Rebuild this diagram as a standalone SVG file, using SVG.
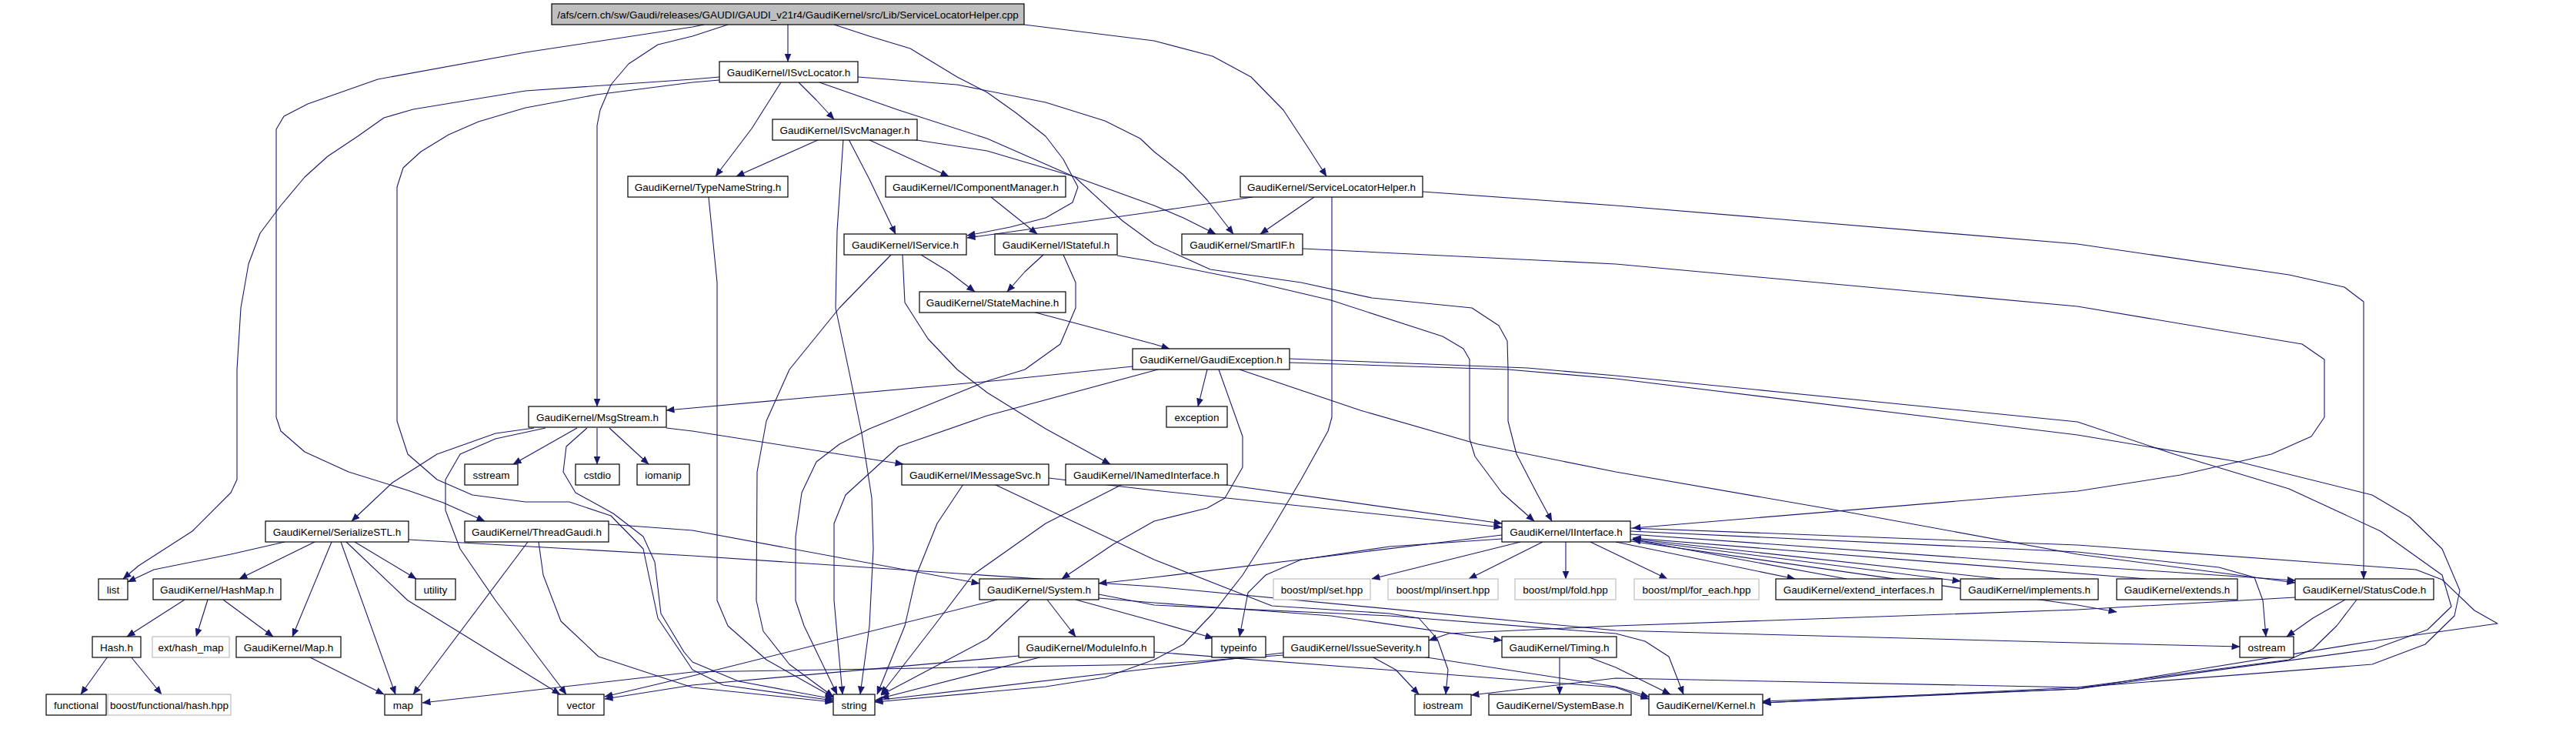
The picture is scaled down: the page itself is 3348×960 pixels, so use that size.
<svg xmlns="http://www.w3.org/2000/svg" width="3348" height="960" viewBox="0 0 3348 960">
<style>
rect{fill:#fff;stroke:#000;stroke-width:1.2}
.g rect{stroke:#bfbfbf}
#n_root rect{fill:#bfbfbf}
text{font-family:"Liberation Sans",Arial,sans-serif;font-size:13.5px;fill:#000;text-anchor:middle}
.e{fill:none;stroke:#191970;stroke-width:1.1;stroke-linejoin:round;marker-end:url(#a)}
</style>
<defs>
<marker id="a" markerWidth="11" markerHeight="9" refX="10.5" refY="4.5" orient="auto" markerUnits="userSpaceOnUse">
<path d="M0,0 L11,4.5 L0,9 z" fill="#191970"/>
</marker>
</defs>
<rect x="0" y="0" width="3348" height="960" style="fill:#fff;stroke:none"/>
<g id="edges">
<path class="e" d="M1024,32 L1024,80"/>
<path class="e" d="M915,32 L900,35 L683,68 L491,103 L400,135 L369,151 L359,168 L359,542 L365,560 L396,587 L453,613 L530,637 L576,653 L630,677"/>
<path class="e" d="M946,32 L900,47 L855,58 L817,83 L794,110 L780,143 L776,163 L776,528"/>
<path class="e" d="M1084,32 L1130,47 L1183,63 L1244,100 L1283,120 L1321,147 L1359,177 L1382,207 L1401,243 L1394,263 L1359,283 L1313,295 L1257,306"/>
<path class="e" d="M1331,32 L1500,53 L1576,73 L1626,100 L1668,143 L1699,190 L1724,229"/>
<path class="e" d="M935,100 L900,103 L683,118 L537,142 L499,153 L465,177 L426,203 L396,230 L365,267 L338,303 L323,343 L313,400 L308,480 L308,623 L300,640 L250,690 L180,735 L160,752"/>
<path class="e" d="M935,104 L900,107 L775,123 L683,140 L622,158 L583,175 L547,197 L524,218 L516,243 L516,547 L530,590 L568,623 L614,643 L683,652 L740,652 L794,670 L836,713 L855,803 L900,870 L940,890 L1083,910"/>
<path class="e" d="M1015,107 L977,167 L930,229"/>
<path class="e" d="M1038,107 L1061,130 L1084,155"/>
<path class="e" d="M1115,100 L1244,110 L1359,133 L1436,157 L1482,180 L1500,197 L1538,227 L1569,260 L1603,304"/>
<path class="e" d="M1065,107 L1168,143 L1283,180 L1397,230 L1459,287 L1500,317 L1573,350 L1691,367 L1783,387 L1913,400 L1948,423 L1959,443 L1960,480 L1960,547 L1971,590 L1997,640 L2017,677"/>
<path class="e" d="M1065,181 L957,229"/>
<path class="e" d="M1096,181 L1088,300 L1086,400 L1103,480 L1120,563 L1133,647 L1135,713 L1130,813 L1118,902"/>
<path class="e" d="M1103,181 L1130,233 L1164,304"/>
<path class="e" d="M1128,181 L1233,229"/>
<path class="e" d="M1185,181 L1283,196 L1398,230 L1500,267 L1538,283 L1580,304"/>
<path class="e" d="M1288,256 L1348,304"/>
<path class="e" d="M1628,256 L1500,275 L1257,309"/>
<path class="e" d="M1708,256 L1638,304"/>
<path class="e" d="M1731,256 L1731,542 L1726,560 L1691,623 L1653,687 L1615,747 L1576,797 L1538,837 L1500,857 L1436,880 L1359,892 L1137,912"/>
<path class="e" d="M1849,249 L2100,267 L2700,317 L2975,357 L3047,373 L3072,392 L3072,752"/>
<path class="e" d="M1197,331 L1233,353 L1267,379"/>
<path class="e" d="M1158,331 L1091,400 L1026,480 L996,547 L984,613 L983,780 L992,820 L1026,863 L1083,905"/>
<path class="e" d="M1173,331 L1176,393 L1206,440 L1244,480 L1283,510 L1359,557 L1443,603"/>
<path class="e" d="M1356,331 L1332,353 L1309,379"/>
<path class="e" d="M1382,331 L1398,367 L1398,400 L1378,447 L1332,480 L1283,495 L1130,557 L1091,577 L1061,600 L1042,640 L1034,697 L1034,780 L1045,813 L1088,902"/>
<path class="e" d="M1452,332 L1500,340 L1615,363 L1730,390 L1875,437 L1902,453 L1910,467 L1910,570 L1917,593 L1952,640 L1994,677"/>
<path class="e" d="M1342,405 L1500,447 L1520,453"/>
<path class="e" d="M1472,476 L1300,494 L900,530 L866,533"/>
<path class="e" d="M1569,480 L1557,528"/>
<path class="e" d="M1505,480 L1283,540 L1168,580 L1099,643 L1084,680 L1084,780 L1095,902"/>
<path class="e" d="M1584,480 L1615,567 L1615,607 L1592,647 L1569,660 L1500,677 L1447,707 L1380,752"/>
<path class="e" d="M1611,480 L1768,533 L1921,577 L2100,613 L2400,665 L2700,720 L2900,746 L2983,757"/>
<path class="e" d="M1676,466 L1985,478 L2100,488 L2700,548 L2826,590 L2975,635 L3094,690 L3174,747 L3186,788 L3155,818 L3086,843 L2700,895 L2291,913"/>
<path class="e" d="M1676,471 L1960,480 L2100,492 L2700,565 L2910,600 L3083,643 L3132,672 L3174,713 L3197,767 L3190,800 L3152,837 L3083,863 L2700,893 L2100,881 L1912,903"/>
<path class="e" d="M694,556 L644,563 L568,590 L510,627 L457,677"/>
<path class="e" d="M709,556 L644,570 L598,590 L579,623 L579,663 L598,713 L644,780 L736,902"/>
<path class="e" d="M750,556 L667,603"/>
<path class="e" d="M776,556 L776,603"/>
<path class="e" d="M792,556 L843,603"/>
<path class="e" d="M763,556 L736,580 L732,613 L748,640 L797,667 L836,697 L851,730 L859,797 L889,847 L900,860 L960,885 L1083,908"/>
<path class="e" d="M866,556 L900,560 L1174,603"/>
<path class="e" d="M1252,629 L1218,680 L1191,747 L1176,813 L1140,902"/>
<path class="e" d="M1292,629 L1500,727 L1653,787 L1806,797 L1844,803 L1868,830 L1882,870 L1879,902"/>
<path class="e" d="M1363,621 L1500,637 L1952,685"/>
<path class="e" d="M1588,629 L1952,680"/>
<path class="e" d="M1459,629 L1359,680 L1264,747 L1214,813 L1145,902"/>
<path class="e" d="M370,704 L300,720 L200,740 L166,756"/>
<path class="e" d="M409,704 L311,752"/>
<path class="e" d="M431,704 L380,827"/>
<path class="e" d="M443,704 L514,902"/>
<path class="e" d="M450,704 L530,780 L728,902"/>
<path class="e" d="M461,704 L541,752"/>
<path class="e" d="M531,701 L900,722 L1500,762 L2100,819 L2700,835 L2911,840"/>
<path class="e" d="M686,704 L537,902"/>
<path class="e" d="M700,704 L706,747 L729,807 L778,853 L900,893 L1083,912"/>
<path class="e" d="M791,681 L900,689 L1273,758"/>
<path class="e" d="M290,779 L355,827"/>
<path class="e" d="M240,779 L165,827"/>
<path class="e" d="M270,779 L255,827"/>
<path class="e" d="M401,853 L499,902"/>
<path class="e" d="M140,853 L105,902"/>
<path class="e" d="M170,853 L210,902"/>
<path class="e" d="M1952,695 L1500,750 L1428,758"/>
<path class="e" d="M1952,700 L1806,710 L1691,727 L1645,747 L1622,770 L1611,827"/>
<path class="e" d="M1976,704 L1783,752"/>
<path class="e" d="M2005,704 L1909,752"/>
<path class="e" d="M2035,704 L2035,752"/>
<path class="e" d="M2067,704 L2167,752"/>
<path class="e" d="M2100,704 L2333,752"/>
<path class="e" d="M2119,701 L2548,755"/>
<path class="e" d="M2119,703 L2700,786 L2751,795"/>
<path class="e" d="M2119,694 L2700,735 L2983,754"/>
<path class="e" d="M2119,690 L2700,717 L2884,737 L2930,750 L2941,780 L2945,827"/>
<path class="e" d="M2119,686 L2700,708 L3140,740 L3174,753 L3216,793 L3246,810 L3083,833 L2700,895 L2291,911"/>
<path class="e" d="M2400,752 L2122,701"/>
<path class="e" d="M2600,752 L2122,700"/>
<path class="e" d="M2790,752 L2122,699"/>
<path class="e" d="M1693,323 L2100,343 L2700,398 L2992,447 L3021,467 L3021,542 L3004,567 L2952,590 L2834,617 L2700,638 L2122,686"/>
<path class="e" d="M1338,779 L1283,830 L1145,903"/>
<path class="e" d="M1296,779 L900,878 L786,905"/>
<path class="e" d="M1361,779 L1398,827"/>
<path class="e" d="M1398,779 L1500,807 L1577,829"/>
<path class="e" d="M1428,777 L1500,783 L1730,800 L1952,832"/>
<path class="e" d="M1428,772 L1500,786 L1806,800 L2100,823 L2138,833 L2169,853 L2188,902"/>
<path class="e" d="M1355,853 L1145,907"/>
<path class="e" d="M1324,852 L900,890 L786,908"/>
<path class="e" d="M1500,847 L2100,893 L2143,908"/>
<path class="e" d="M1668,851 L1500,863 L900,873 L549,913"/>
<path class="e" d="M1668,848 L1500,868 L1137,910"/>
<path class="e" d="M1783,853 L1814,870 L1844,902"/>
<path class="e" d="M1848,853 L2100,892 L2143,905"/>
<path class="e" d="M2027,853 L2027,902"/>
<path class="e" d="M2063,853 L2100,867 L2171,902"/>
<path class="e" d="M2983,776 L2700,792 L2100,813 L1883,823 L1857,832"/>
<path class="e" d="M3048,779 L3006,803 L2972,827"/>
<path class="e" d="M3063,779 L3037,813 L3006,843 L2975,857 L2700,893 L2291,913"/>
<path class="e" d="M921,256 L932,367 L932,780 L946,813 L996,857 L1083,906"/>
</g>
<g id="n_root"><rect x="717" y="5" width="614" height="27"/><text x="1024" y="23.5">/afs/cern.ch/sw/Gaudi/releases/GAUDI/GAUDI_v21r4/GaudiKernel/src/Lib/ServiceLocatorHelper.cpp</text></g>
<g id="n_isvclocator"><rect x="935" y="80" width="180" height="27"/><text x="1025" y="98.5">GaudiKernel/ISvcLocator.h</text></g>
<g id="n_isvcmanager"><rect x="1004" y="155" width="188" height="27"/><text x="1098" y="173.5">GaudiKernel/ISvcManager.h</text></g>
<g id="n_typenamestring"><rect x="816" y="229" width="208" height="27"/><text x="920" y="247.5">GaudiKernel/TypeNameString.h</text></g>
<g id="n_icomponentmanager"><rect x="1151" y="229" width="234" height="27"/><text x="1268" y="247.5">GaudiKernel/IComponentManager.h</text></g>
<g id="n_servicelocatorhelper"><rect x="1612" y="229" width="237" height="27"/><text x="1730.5" y="247.5">GaudiKernel/ServiceLocatorHelper.h</text></g>
<g id="n_iservice"><rect x="1097" y="304" width="159" height="27"/><text x="1176.5" y="322.5">GaudiKernel/IService.h</text></g>
<g id="n_istateful"><rect x="1293" y="304" width="159" height="27"/><text x="1372.5" y="322.5">GaudiKernel/IStateful.h</text></g>
<g id="n_smartif"><rect x="1536" y="304" width="157" height="27"/><text x="1614.5" y="322.5">GaudiKernel/SmartIF.h</text></g>
<g id="n_statemachine"><rect x="1195" y="379" width="190" height="27"/><text x="1290" y="397.5">GaudiKernel/StateMachine.h</text></g>
<g id="n_gaudiexception"><rect x="1472" y="453" width="204" height="27"/><text x="1574" y="471.5">GaudiKernel/GaudiException.h</text></g>
<g id="n_msgstream"><rect x="687" y="528" width="179" height="27"/><text x="776.5" y="546.5">GaudiKernel/MsgStream.h</text></g>
<g id="n_exception"><rect x="1516" y="528" width="79" height="27"/><text x="1555.5" y="546.5">exception</text></g>
<g id="n_sstream"><rect x="604" y="603" width="69" height="27"/><text x="638.5" y="621.5">sstream</text></g>
<g id="n_cstdio"><rect x="748" y="603" width="57" height="27"/><text x="776.5" y="621.5">cstdio</text></g>
<g id="n_iomanip"><rect x="828" y="603" width="68" height="27"/><text x="862" y="621.5">iomanip</text></g>
<g id="n_imessagesvc"><rect x="1172" y="603" width="191" height="27"/><text x="1267.5" y="621.5">GaudiKernel/IMessageSvc.h</text></g>
<g id="n_inamedinterface"><rect x="1385" y="603" width="210" height="27"/><text x="1490" y="621.5">GaudiKernel/INamedInterface.h</text></g>
<g id="n_serializestl"><rect x="345" y="677" width="186" height="27"/><text x="438" y="695.5">GaudiKernel/SerializeSTL.h</text></g>
<g id="n_threadgaudi"><rect x="604" y="677" width="187" height="27"/><text x="697.5" y="695.5">GaudiKernel/ThreadGaudi.h</text></g>
<g id="n_iinterface"><rect x="1952" y="677" width="167" height="27"/><text x="2035.5" y="695.5">GaudiKernel/IInterface.h</text></g>
<g id="n_list"><rect x="128" y="752" width="38" height="27"/><text x="147" y="770.5">list</text></g>
<g id="n_hashmap"><rect x="199" y="752" width="166" height="27"/><text x="282" y="770.5">GaudiKernel/HashMap.h</text></g>
<g id="n_utility"><rect x="540" y="752" width="52" height="27"/><text x="566" y="770.5">utility</text></g>
<g id="n_system"><rect x="1273" y="752" width="155" height="27"/><text x="1350.5" y="770.5">GaudiKernel/System.h</text></g>
<g id="n_mplset" class="g"><rect x="1655" y="752" width="126" height="27"/><text x="1718" y="770.5">boost/mpl/set.hpp</text></g>
<g id="n_mplinsert" class="g"><rect x="1804" y="752" width="143" height="27"/><text x="1875.5" y="770.5">boost/mpl/insert.hpp</text></g>
<g id="n_mplfold" class="g"><rect x="1969" y="752" width="131" height="27"/><text x="2034.5" y="770.5">boost/mpl/fold.hpp</text></g>
<g id="n_mplforeach" class="g"><rect x="2124" y="752" width="162" height="27"/><text x="2205" y="770.5">boost/mpl/for_each.hpp</text></g>
<g id="n_extendinterfaces"><rect x="2308" y="752" width="216" height="27"/><text x="2416" y="770.5">GaudiKernel/extend_interfaces.h</text></g>
<g id="n_implements"><rect x="2548" y="752" width="179" height="27"/><text x="2637.5" y="770.5">GaudiKernel/implements.h</text></g>
<g id="n_extends"><rect x="2751" y="752" width="157" height="27"/><text x="2829.5" y="770.5">GaudiKernel/extends.h</text></g>
<g id="n_statuscode"><rect x="2983" y="752" width="180" height="27"/><text x="3073" y="770.5">GaudiKernel/StatusCode.h</text></g>
<g id="n_hash"><rect x="120" y="827" width="63" height="27"/><text x="151.5" y="845.5">Hash.h</text></g>
<g id="n_exthashmap" class="g"><rect x="198" y="827" width="100" height="27"/><text x="248" y="845.5">ext/hash_map</text></g>
<g id="n_map_h"><rect x="307" y="827" width="136" height="27"/><text x="375" y="845.5">GaudiKernel/Map.h</text></g>
<g id="n_moduleinfo"><rect x="1324" y="827" width="176" height="27"/><text x="1412" y="845.5">GaudiKernel/ModuleInfo.h</text></g>
<g id="n_typeinfo"><rect x="1575" y="827" width="70" height="27"/><text x="1610" y="845.5">typeinfo</text></g>
<g id="n_issueseverity"><rect x="1668" y="827" width="189" height="27"/><text x="1762.5" y="845.5">GaudiKernel/IssueSeverity.h</text></g>
<g id="n_timing"><rect x="1952" y="827" width="149" height="27"/><text x="2026.5" y="845.5">GaudiKernel/Timing.h</text></g>
<g id="n_ostream"><rect x="2911" y="827" width="70" height="27"/><text x="2946" y="845.5">ostream</text></g>
<g id="n_functional"><rect x="60" y="902" width="78" height="27"/><text x="99" y="920.5">functional</text></g>
<g id="n_boosthash" class="g"><rect x="140" y="902" width="160" height="27"/><text x="220" y="920.5">boost/functional/hash.hpp</text></g>
<g id="n_map"><rect x="500" y="902" width="48" height="27"/><text x="524" y="920.5">map</text></g>
<g id="n_vector"><rect x="725" y="902" width="60" height="27"/><text x="755" y="920.5">vector</text></g>
<g id="n_string"><rect x="1083" y="902" width="54" height="27"/><text x="1110" y="920.5">string</text></g>
<g id="n_iostream"><rect x="1839" y="902" width="73" height="27"/><text x="1875.5" y="920.5">iostream</text></g>
<g id="n_systembase"><rect x="1935" y="902" width="185" height="27"/><text x="2027.5" y="920.5">GaudiKernel/SystemBase.h</text></g>
<g id="n_kernel"><rect x="2143" y="902" width="148" height="27"/><text x="2217" y="920.5">GaudiKernel/Kernel.h</text></g>
</svg>
